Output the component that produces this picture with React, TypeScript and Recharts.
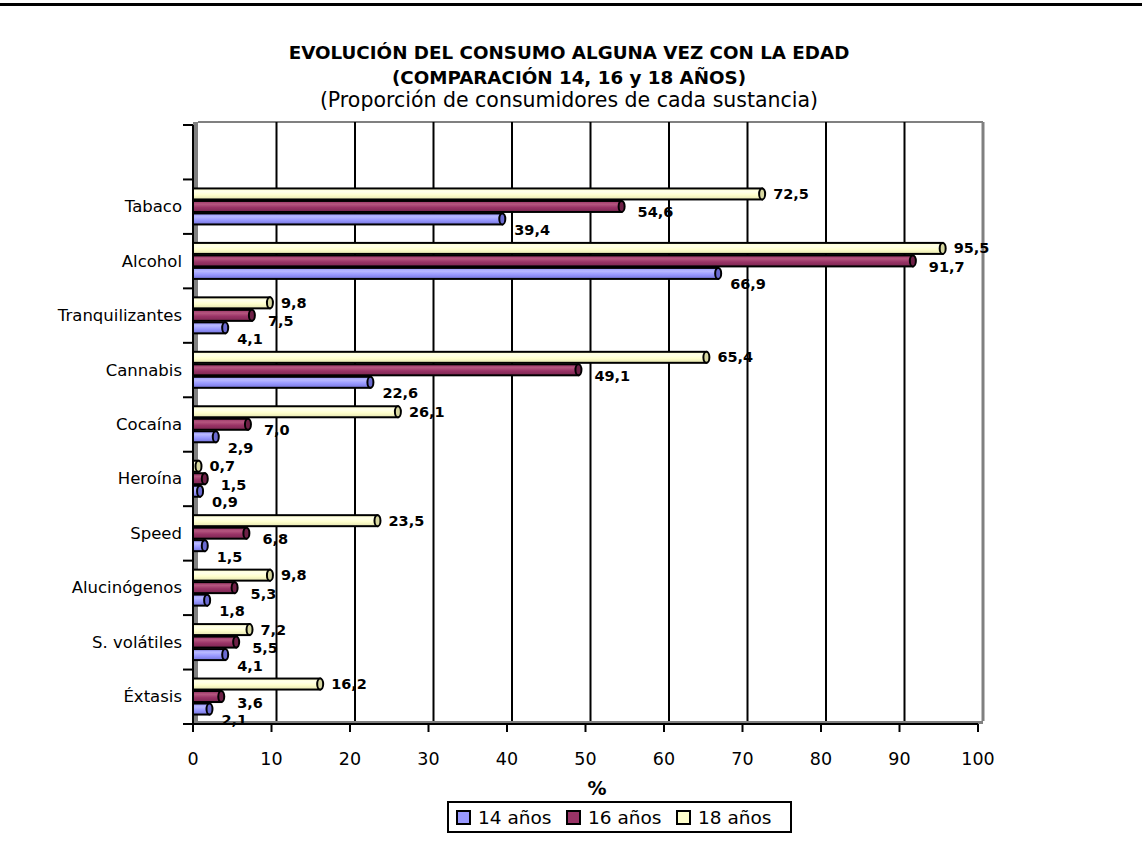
import { BarChart, Bar, XAxis, YAxis, CartesianGrid, LabelList } from 'recharts';

const categories = [
  '',
  'Tabaco',
  'Alcohol',
  'Tranquilizantes',
  'Cannabis',
  'Cocaína',
  'Heroína',
  'Speed',
  'Alucinógenos',
  'S. volátiles',
  'Éxtasis',
];
const age14 = [null, 39.4, 66.9, 4.1, 22.6, 2.9, 0.9, 1.5, 1.8, 4.1, 2.1];
const age16 = [null, 54.6, 91.7, 7.5, 49.1, 7.0, 1.5, 6.8, 5.3, 5.5, 3.6];
const age18 = [null, 72.5, 95.5, 9.8, 65.4, 26.1, 0.7, 23.5, 9.8, 7.2, 16.2];
const xTicks = [0, 10, 20, 30, 40, 50, 60, 70, 80, 90, 100];
const legendItems = ['14 años', '16 años', '18 años'];

const FONT = "'DejaVu Sans', Verdana, sans-serif";
const W = 1142;
const H = 853;
const PLOT_TOP = 125;
const PLOT_BOTTOM = 724;
const BAND = (PLOT_BOTTOM - PLOT_TOP) / categories.length;
const DEPTH_X = 5;
const DEPTH_Y = 3;

const tones: Record<string, { main: string; light: string; dark: string; cap: string }> = {
  a14: { main: '#9999ff', light: '#b8b8ff', dark: '#7474dc', cap: '#6a6ad0' },
  a16: { main: '#993366', light: '#b5567f', dark: '#7a2650', cap: '#6e2046' },
  a18: { main: '#ffffcc', light: '#ffffea', dark: '#e4e4ae', cap: '#d8d8a0' },
};
const seriesKeys = ['a14', 'a16', 'a18'];

const chartData = categories.map((name, i) => ({
  name,
  a14: age14[i],
  a16: age16[i],
  a18: age18[i],
}));

const Cylinder = (props: any) => {
  const { x, y, width, height, tone } = props;
  if (width == null || width <= 0 || !height) return null;
  const t = tones[tone];
  const cy = y + height / 2;
  return (
    <g>
      <rect
        x={x}
        y={y}
        width={width}
        height={height}
        fill={`url(#grad-${tone})`}
        stroke="#000"
        strokeWidth={2}
      />
      <ellipse
        cx={x + width}
        cy={cy}
        rx={3}
        ry={height / 2}
        fill={t.cap}
        stroke="#000"
        strokeWidth={2}
      />
    </g>
  );
};

// label offsets per series, like Excel puts them around the bar end
const labelShift: Record<string, { dx: number; dy: number }> = {
  a14: { dx: 12, dy: 11 },
  a16: { dx: 16, dy: 6 },
  a18: { dx: 11, dy: 0 },
};

const makeLabel = (key: string) => (props: any) => {
  const { x, y, width, height, value } = props;
  if (value == null) return null;
  const s = labelShift[key];
  return (
    <text
      x={x + width + s.dx}
      y={y + height / 2 + s.dy}
      dominantBaseline="central"
      textAnchor="start"
      fontFamily={FONT}
      fontWeight="bold"
      fontSize={14.5}
      fill="#000"
    >
      {Number(value).toFixed(1).replace('.', ',')}
    </text>
  );
};

const CategoryTick = (props: any) => {
  const { y, payload, index } = props;
  const axisX = 193;
  return (
    <g>
      <line
        x1={axisX - 10}
        x2={axisX}
        y1={y - BAND / 2}
        y2={y - BAND / 2}
        stroke="#000"
        strokeWidth={2}
      />
      {index === categories.length - 1 && (
        <line
          x1={axisX - 10}
          x2={axisX}
          y1={y + BAND / 2}
          y2={y + BAND / 2}
          stroke="#000"
          strokeWidth={2}
        />
      )}
      <text
        x={axisX - 11}
        y={y}
        textAnchor="end"
        dominantBaseline="central"
        fontFamily={FONT}
        fontSize={16.5}
        fill="#000"
      >
        {payload.value}
      </text>
    </g>
  );
};

const GridLine = (props: any) => {
  const { x1, y1, y2, index, x, width } = props;
  const last = xTicks.length - 1;
  if (index === 0) {
    const right = (x ?? x1) + (width ?? 785);
    return (
      <g>
        <rect x={x1} y={y1 - DEPTH_Y} width={DEPTH_X} height={y2 - y1 + DEPTH_Y} fill="#808080" />
        <rect x={x1} y={y2 - DEPTH_Y} width={right - x1 + DEPTH_X} height={DEPTH_Y} fill="#808080" />
        <line
          x1={x1 + DEPTH_X}
          x2={right + DEPTH_X}
          y1={y1 - DEPTH_Y}
          y2={y1 - DEPTH_Y}
          stroke="#808080"
          strokeWidth={2}
        />
      </g>
    );
  }
  return (
    <line
      x1={x1 + DEPTH_X}
      x2={x1 + DEPTH_X}
      y1={y1 - DEPTH_Y}
      y2={y2 - DEPTH_Y}
      stroke={index === last ? '#808080' : '#000'}
      strokeWidth={index === last ? 3 : 2}
    />
  );
};

export default function App() {
  return (
    <div
      style={{
        position: 'absolute',
        left: 0,
        top: 0,
        width: W,
        height: H,
        background: '#fff',
        fontFamily: FONT,
        color: '#000',
      }}
    >
      <div style={{ position: 'absolute', left: 0, top: 3, width: W, height: 3, background: '#000' }} />
      <div
        style={{
          position: 'absolute',
          left: 0,
          width: W - 4,
          top: 40,
          textAlign: 'center',
          fontWeight: 'bold',
          fontSize: 18.3,
          lineHeight: '25px',
        }}
      >
        EVOLUCIÓN DEL CONSUMO ALGUNA VEZ CON LA EDAD
        <br />
        (COMPARACIÓN 14, 16 y 18 AÑOS)
      </div>
      <div
        style={{
          position: 'absolute',
          left: 0,
          width: W - 4,
          top: 87,
          textAlign: 'center',
          fontSize: 20.5,
          lineHeight: '26px',
        }}
      >
        (Proporción de consumidores de cada sustancia)
      </div>

      <div style={{ position: 'absolute', left: 0, top: 0 }}>
        <BarChart
          width={W}
          height={H}
          data={chartData}
          layout="vertical"
          margin={{ top: PLOT_TOP, right: 164, bottom: 89, left: 8 }}
          barSize={11}
          barGap={1.5}
        >
          <defs>
            {seriesKeys.map((k) => (
              <linearGradient key={k} id={`grad-${k}`} x1="0" y1="0" x2="0" y2="1">
                <stop offset="0%" stopColor={tones[k].main} />
                <stop offset="30%" stopColor={tones[k].light} />
                <stop offset="60%" stopColor={tones[k].main} />
                <stop offset="100%" stopColor={tones[k].dark} />
              </linearGradient>
            ))}
          </defs>
          <CartesianGrid horizontal={false} vertical={GridLine} />
          <XAxis
            type="number"
            domain={[0, 100]}
            ticks={xTicks}
            interval={0}
            height={40}
            axisLine={{ stroke: '#000', strokeWidth: 2 }}
            tickLine={{ stroke: '#000', strokeWidth: 2 }}
            tickSize={8}
            tickMargin={21}
            tick={{ fill: '#000', fontSize: 17.5, fontFamily: FONT }}
          />
          <YAxis
            type="category"
            dataKey="name"
            width={185}
            interval={0}
            axisLine={{ stroke: '#000', strokeWidth: 2 }}
            tickLine={false}
            tick={<CategoryTick />}
          />
          <Bar dataKey="a18" isAnimationActive={false} shape={(p: any) => <Cylinder {...p} tone="a18" />}>
            <LabelList dataKey="a18" content={makeLabel('a18')} />
          </Bar>
          <Bar dataKey="a16" isAnimationActive={false} shape={(p: any) => <Cylinder {...p} tone="a16" />}>
            <LabelList dataKey="a16" content={makeLabel('a16')} />
          </Bar>
          <Bar dataKey="a14" isAnimationActive={false} shape={(p: any) => <Cylinder {...p} tone="a14" />}>
            <LabelList dataKey="a14" content={makeLabel('a14')} />
          </Bar>
        </BarChart>
      </div>

      <div
        style={{
          position: 'absolute',
          left: 562,
          width: 70,
          top: 777,
          textAlign: 'center',
          fontWeight: 'bold',
          fontSize: 19,
        }}
      >
        %
      </div>

      <div
        style={{
          position: 'absolute',
          left: 447,
          top: 801,
          width: 334,
          height: 28,
          border: '2px solid #000',
          display: 'flex',
          alignItems: 'center',
          paddingLeft: 7,
          boxSizing: 'content-box',
          fontSize: 18.5,
        }}
      >
        {legendItems.map((label, i) => {
          const t = tones[seriesKeys[i]];
          return (
            <div key={label} style={{ display: 'flex', alignItems: 'center', width: 110 }}>
              <span
                style={{
                  display: 'inline-block',
                  width: 11,
                  height: 11,
                  border: '2px solid #000',
                  background: t.main,
                  marginRight: 7,
                }}
              />
              <span>{label}</span>
            </div>
          );
        })}
      </div>
    </div>
  );
}
